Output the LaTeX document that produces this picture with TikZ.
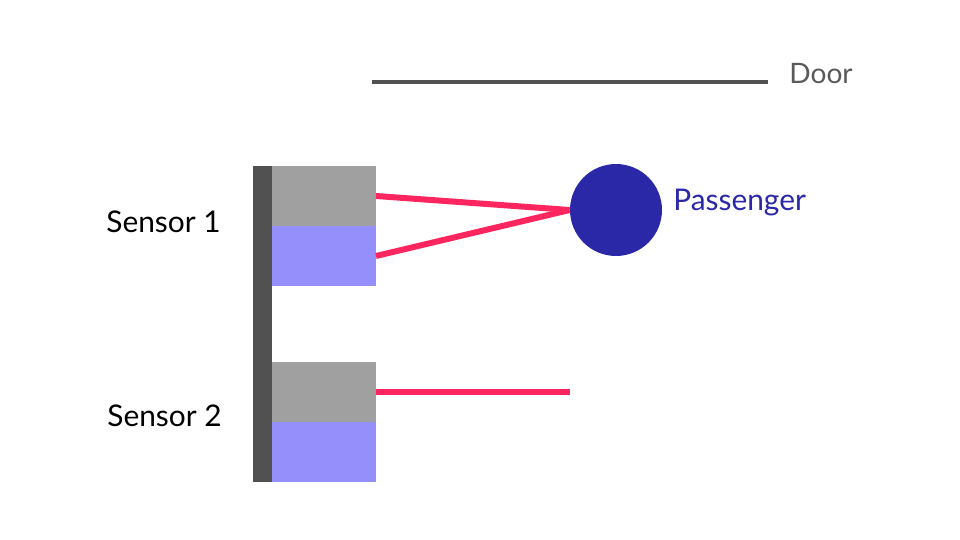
\documentclass[tikz,border=0pt]{standalone}
\usepackage{fontspec}
\setmainfont{Lato}
\usetikzlibrary{positioning}
\definecolor{Wall}{HTML}{515151}
\definecolor{Cover}{HTML}{A0A0A0}
\definecolor{Lens}{HTML}{948FFA}
\definecolor{Beam}{HTML}{FF2660}
\definecolor{Body}{HTML}{2B28A8}
\definecolor{Label}{HTML}{5A5A5A}
\tikzset{
  cover/.style={fill=Cover,minimum width=2.08cm,minimum height=1.2cm,inner sep=0pt,outer sep=0pt},
  lens/.style={fill=Lens,minimum width=2.08cm,minimum height=1.2cm,inner sep=0pt,outer sep=0pt},
  beam/.style={draw=Beam,line width=3.4pt},
  caption/.style={font=\fontsize{17}{20}\selectfont,inner sep=0pt},
}

\begin{document}
\begin{tikzpicture}[x=0.02cm,y=-0.02cm]
  \useasboundingbox[fill=white] (0,0) rectangle (960,540);
  % wall and sensors
  \fill[Wall] (253,166) rectangle (272,482);
  \node[cover] (s1top) at (324,196) {};
  \node[lens,below=0pt of s1top] (s1bot) {};
  \node[cover] (s2top) at (324,392) {};
  \node[lens,below=0pt of s2top] (s2bot) {};
  \node[caption,anchor=east] (s1lbl) at (221,222) {Sensor 1};
  \node[caption,anchor=east] (s2lbl) at (222,416) {Sensor 2};
  % door
  \coordinate (doorL) at (372,82);
  \coordinate (doorR) at (768,82);
  \draw[Wall,line width=2.4pt] (doorL) -- (doorR);
  \node[caption,Label,font=\fontsize{16}{19}\selectfont,anchor=base west] (doorlbl) at (789,84) {Door};
  % passenger
  \node[circle,fill=Body,minimum size=1.84cm,inner sep=0pt] (pass) at (616,210) {};
  \node[caption,Body,anchor=base west] (passlbl) at (673,211) {Passenger};
  % beams
  \draw[beam] (s1top.east) -- (pass.west);
  \draw[beam] (s1bot.east) -- (pass.west);
  \coordinate (s2end) at (570,392);
  \draw[beam] (s2top.east) -- (s2end);
\end{tikzpicture}
\end{document}
